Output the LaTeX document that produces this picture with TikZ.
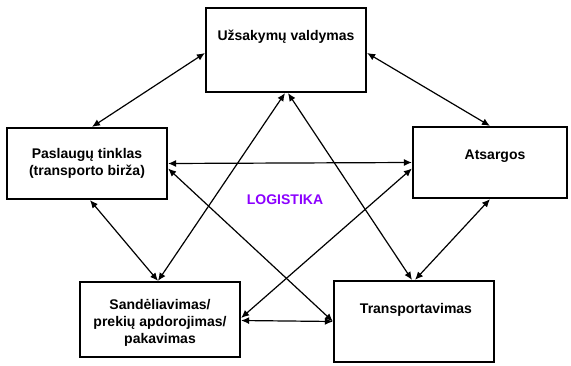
\documentclass[tikz,border=0pt]{standalone}
\usepackage{xcolor}
\usepackage{fontspec}
\setmainfont{Liberation Sans}
\usepackage{tikz}
\usetikzlibrary{calc, arrows.meta, positioning}
\definecolor{logiViolet}{HTML}{8B00FF}
\definecolor{logiLine}{HTML}{000000}

\tikzset{
    blok/.style={draw=logiLine, line width=2.2pt, fill=white, inner sep=0pt},
    tekstas/.style={align=center, font=\fontsize{14}{17}\selectfont\bfseries, inner sep=0pt},
    rysys/.style={{Latex[length=8pt,width=7pt]}-{Latex[length=8pt,width=7pt]}, line width=1.2pt, draw=logiLine}
}

\begin{document}
\begin{tikzpicture}[x=1pt, y=1pt]
        \useasboundingbox (0,0) rectangle (571,365);

        % blokai
        \node[blok, minimum width=160pt, minimum height=84pt] (uzsak) at (286,315) {};
        \node[blok, minimum width=160pt, minimum height=71pt] (tinkl) at (87,201.5) {};
        \node[blok, minimum width=154pt, minimum height=71pt] (atsarg) at (490,202.5) {};
        \node[blok, minimum width=160pt, minimum height=75pt] (sandel) at (160,45.5) {};
        \node[blok, minimum width=160pt, minimum height=81pt] (transp) at (414,43.5) {};

        % tekstai
        \node[tekstas] (uzsakT) at ([yshift=13pt]uzsak.center) {Užsakymų valdymas};
        \node[tekstas] (tinklT) at (tinkl.center) {Paslaugų tinklas\\(transporto birža)};
        \node[tekstas] (atsargT) at ([xshift=5pt, yshift=6.5pt]atsarg.center) {Atsargos};
        \node[tekstas] (sandelT) at ([yshift=-3.5pt]sandel.center) {Sandėliavimas/\\prekių apdorojimas/\\pakavimas};
        \node[tekstas] (transpT) at ([xshift=2pt, yshift=11.5pt]transp.center) {Transportavimas};
        \node[tekstas, text=logiViolet] (logist) at (285,165) {LOGISTIKA};

        % ryšiai
        \draw[rysys] ([xshift=5pt]tinkl.north) -- ([yshift=-3pt]uzsak.west);
        \draw[rysys] ([yshift=-3pt]uzsak.east) -- (atsarg.north);
        \draw[rysys] ([xshift=-1pt]uzsak.south) -- ([xshift=-2pt]sandel.north);
        \draw[rysys] ([xshift=2pt]uzsak.south) -- ([xshift=-2pt]transp.north);
        \draw[rysys] (tinkl.east) -- (atsarg.west);
        \draw[rysys] ([yshift=-5pt]tinkl.east) -- (transp.west);
        \draw[rysys] ([yshift=-6pt]atsarg.west) -- ([yshift=1.5pt]sandel.east);
        \draw[rysys] ([xshift=3pt]tinkl.south) -- ([xshift=-2pt]sandel.north);
        \draw[rysys] (atsarg.south) -- ([xshift=1pt]transp.north);
        \draw[rysys] ([yshift=-1pt]sandel.east) -- (transp.west);
    \end{tikzpicture}
\end{document}
